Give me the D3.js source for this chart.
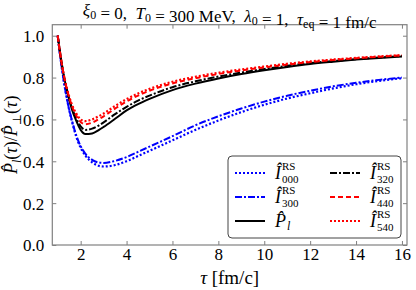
<!DOCTYPE html>
<html lang="en">
<head>
<meta charset="UTF-8">
<title>Pl / Pperp</title>
<script src="https://d3js.org/d3.v7.min.js"></script>
<style>
  body { margin: 0; background: #fff; }
  svg text { font-family: "Liberation Serif", "DejaVu Serif", serif !important; }
</style>
</head>
<body>
<div id="chart"></div>
<script>
// proper times (fm/c) where the curves were read
var taus = [1, 1.1, 1.2, 1.3, 1.4, 1.5, 1.6, 1.8, 2.0, 2.2, 2.5, 2.8, 3.0, 3.5, 4, 4.5, 5, 6, 7, 8, 9, 10, 11, 12, 13, 14, 15, 16];

var i000 = [1.0, 0.91, 0.83, 0.76, 0.70, 0.645, 0.60, 0.52, 0.465, 0.428, 0.395, 0.378, 0.375, 0.382, 0.40, 0.425, 0.45, 0.50, 0.55, 0.595, 0.635, 0.67, 0.70, 0.725, 0.748, 0.768, 0.784, 0.797];
var i300 = [1.0, 0.91, 0.83, 0.76, 0.70, 0.648, 0.603, 0.527, 0.472, 0.437, 0.407, 0.394, 0.392, 0.402, 0.42, 0.445, 0.47, 0.52, 0.572, 0.615, 0.652, 0.685, 0.713, 0.737, 0.758, 0.775, 0.789, 0.80];
var pl   = [1.0, 0.92, 0.85, 0.79, 0.74, 0.695, 0.655, 0.595, 0.55, 0.53, 0.533, 0.55, 0.564, 0.603, 0.643, 0.673, 0.698, 0.74, 0.771, 0.796, 0.817, 0.835, 0.851, 0.865, 0.876, 0.886, 0.894, 0.901];
var i320 = [1.0, 0.92, 0.85, 0.79, 0.742, 0.70, 0.662, 0.607, 0.567, 0.550, 0.556, 0.572, 0.586, 0.625, 0.66, 0.69, 0.714, 0.754, 0.782, 0.805, 0.824, 0.841, 0.856, 0.869, 0.879, 0.888, 0.896, 0.903];
var i440 = [1.0, 0.92, 0.85, 0.792, 0.745, 0.705, 0.67, 0.62, 0.588, 0.577, 0.585, 0.602, 0.615, 0.652, 0.686, 0.714, 0.737, 0.772, 0.797, 0.817, 0.834, 0.849, 0.862, 0.874, 0.884, 0.892, 0.900, 0.906];
var i540 = [1.0, 0.92, 0.851, 0.794, 0.748, 0.71, 0.677, 0.63, 0.60, 0.592, 0.60, 0.616, 0.628, 0.664, 0.697, 0.724, 0.746, 0.78, 0.804, 0.823, 0.839, 0.853, 0.866, 0.877, 0.886, 0.894, 0.901, 0.907];

var xTicks = [2, 4, 6, 8, 10, 12, 14, 16];
var yTicks = [0.0, 0.2, 0.4, 0.6, 0.8, 1.0];

// series styles, in legend order (left column first)
var series = [
  {sub: "000", vals: i000, color: "#0000ff", dash: "2,2", w: 2.2},
  {sub: "300", vals: i300, color: "#0000ff", dash: "7,2,2,2", w: 2},
  {sub: null,  vals: pl,   color: "#000000", dash: null, w: 2},
  {sub: "320", vals: i320, color: "#000000", dash: "7,2,2,2", w: 2},
  {sub: "440", vals: i440, color: "#ff0000", dash: "5,3", w: 2},
  {sub: "540", vals: i540, color: "#ff0000", dash: "2,2", w: 2.2}
];

var W = 416, H = 290;
var margin = {top: 24.7, right: 9, bottom: 45, left: 52.3};
var width = W - margin.left - margin.right,
    height = H - margin.top - margin.bottom;

var serif = '"Liberation Serif", "DejaVu Serif", serif';

var svg = d3.select("#chart").append("svg")
    .attr("width", W).attr("height", H)
    .style("font-family", serif);

var g = svg.append("g")
    .attr("transform", `translate(${margin.left},${margin.top})`);

var x = d3.scaleLinear().domain([0.764, 16.22]).range([0, width]);
var y = d3.scaleLinear().domain([0, 1.0526]).range([height, 0]);

var frameColor = "#808080";

g.append("clipPath").attr("id", "clip")
  .append("rect").attr("width", width).attr("height", height);

// curves
var line = d3.line()
    .x(function(d, i) { return x(taus[i]); })
    .y(function(d) { return y(d); })
    .curve(d3.curveMonotoneX);

g.append("g").attr("clip-path", "url(#clip)")
  .selectAll("path")
  .data(series)
  .join("path")
    .attr("fill", "none")
    .attr("stroke", function(d) { return d.color; })
    .attr("stroke-width", function(d) { return d.w; })
    .attr("stroke-dasharray", function(d) { return d.dash; })
    .attr("d", function(d) { return line(d.vals); });

// axes (ticks inward on all four sides)
var fs = 17;
var xb = g.append("g").attr("transform", `translate(0,${height})`)
  .call(d3.axisBottom(x).tickValues(xTicks).tickSizeInner(-4).tickSizeOuter(0).tickPadding(3).tickFormat(d3.format("d")));
var xt = g.append("g")
  .call(d3.axisTop(x).tickValues(xTicks).tickSizeInner(-4).tickSizeOuter(0).tickFormat(""));
var yl = g.append("g")
  .call(d3.axisLeft(y).tickValues(yTicks).tickSizeInner(-4).tickSizeOuter(0).tickPadding(8).tickFormat(d3.format(".1f")));
var yr = g.append("g").attr("transform", `translate(${width},0)`)
  .call(d3.axisRight(y).tickValues(yTicks).tickSizeInner(-4).tickSizeOuter(0).tickFormat(""));

[xb, xt, yl, yr].forEach(function(a) {
  a.attr("font-family", null).attr("font-size", null);
  a.select(".domain").remove();
  a.selectAll("line").attr("stroke", frameColor).attr("stroke-width", 1);
  a.selectAll("text").style("font-family", serif).style("font-size", fs + "px").attr("fill", "#000");
});
xb.selectAll("text").attr("dy", "0.71em");
yl.selectAll("text").attr("dy", "0.35em");

g.append("rect")
  .attr("width", width).attr("height", height)
  .attr("fill", "none").attr("stroke", frameColor).attr("stroke-width", 1.2);

// title
var sp = "\u00a0";
var title = svg.append("text")
  .attr("x", margin.left + width / 2).attr("y", 16)
  .attr("text-anchor", "middle").attr("font-size", 17);
function part(t, txt, it) { t.append("tspan").attr("font-style", it ? "italic" : null).text(txt); }
function sub(t, txt, f) {
  t.append("tspan").attr("font-size", f || 12).attr("dy", 3).text(txt);
  t.append("tspan").attr("dy", -3).text("");
}
part(title, "ξ", true); sub(title, "0"); part(title, sp + "=" + sp + "0," + sp + sp);
part(title, "T", true); sub(title, "0"); part(title, sp + "=" + sp + "300" + sp + "MeV," + sp + sp);
part(title, "λ", true); sub(title, "0"); part(title, sp + "=" + sp + "1," + sp + sp);
part(title, "τ", true); sub(title, "eq"); part(title, sp + "=" + sp + "1" + sp + "fm/c");

// x label
var xl = svg.append("text")
  .attr("x", margin.left + width / 2).attr("y", 284)
  .attr("text-anchor", "middle").attr("font-size", 19);
part(xl, "τ", true); part(xl, sp + "[fm/c]");

// y label
var ylab = svg.append("text")
  .attr("transform", `translate(17,${margin.top + height / 2}) rotate(-90)`)
  .attr("text-anchor", "middle").attr("font-size", 18);
part(ylab, "P̂", true);
ylab.append("tspan").attr("font-size", 12).attr("font-style", "italic").attr("dy", 4).text("l");
ylab.append("tspan").attr("dy", -4).text("(");
part(ylab, "τ", true); part(ylab, ")/");
part(ylab, "P̂", true);
ylab.append("tspan").attr("font-size", 12).attr("dy", 4).text("⊥");
ylab.append("tspan").attr("dy", -4).text("(");
part(ylab, "τ", true); part(ylab, ")");

// legend
var lg = svg.append("g");
lg.append("rect")
  .attr("x", 228).attr("y", 156).attr("width", 173).attr("height", 82)
  .attr("rx", 4).attr("fill", "#fff").attr("stroke", "#444").attr("stroke-width", 1);

series.forEach(function(s, k) {
  var col = Math.floor(k / 3), row = k % 3;
  var lx = col === 0 ? 235 : 330;
  var ly = 173 + row * 24;
  lg.append("line")
    .attr("x1", lx).attr("x2", lx + 30).attr("y1", ly).attr("y2", ly)
    .attr("stroke", s.color).attr("stroke-width", s.w)
    .attr("stroke-dasharray", s.dash);
  var tx = lx + 40;
  var main = lg.append("text").attr("x", tx).attr("y", ly + 6)
    .attr("font-size", 18).attr("font-style", "italic")
    .text(s.sub ? "Î" : "P̂");
  var mw = main.node().getComputedTextLength();
  if (s.sub) {
    lg.append("text").attr("x", tx + mw + 1).attr("y", ly - 3)
      .attr("font-size", 11).text("RS");
    lg.append("text").attr("x", tx + mw + 1).attr("y", ly + 10)
      .attr("font-size", 11).text(s.sub);
  } else {
    lg.append("text").attr("x", tx + mw + 1).attr("y", ly + 9)
      .attr("font-size", 12).attr("font-style", "italic").text("l");
  }
});
</script>
</body>
</html>
